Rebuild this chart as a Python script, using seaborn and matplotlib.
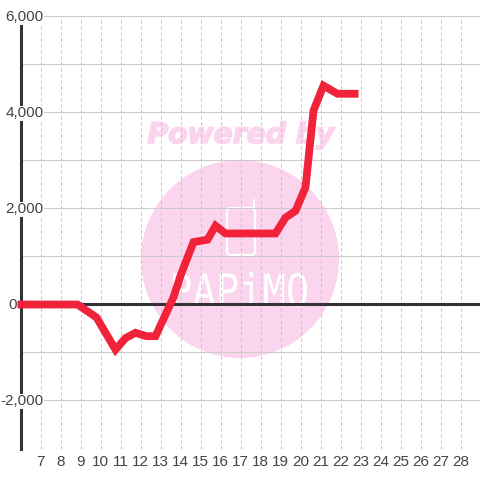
import pandas as pd
import seaborn as sns
import matplotlib
matplotlib.use("Agg")
import matplotlib.pyplot as plt
import matplotlib.patheffects as pe
from matplotlib.patches import Circle, FancyBboxPatch, PathPatch
from matplotlib.textpath import TextPath
from matplotlib.font_manager import FontProperties
from matplotlib.transforms import Affine2D

# values
hours = [5.85, 8.85, 9.8, 10.75, 11.25, 11.75, 12.3, 12.75, 13.65, 14.0, 14.65,
         15.35, 15.75, 16.25, 18.75, 19.25, 19.75, 20.25, 20.65, 21.15, 21.85, 22.9]
balance = [0, 0, -270, -940, -700, -590, -660, -660, 150, 600, 1300,
           1350, 1640, 1480, 1480, 1810, 1950, 2440, 4040, 4560, 4390, 4390]
x_ticks = list(range(7, 29))
y_labels = {6000: "6,000", 4000: "4,000", 2000: "2,000", 0: "0", -2000: "-2,000"}
y_grid = list(range(-3000, 7000, 1000))

GREY = "#cccccc"
DARK = "#333333"
PINK = "#fbd5ee"
RED = "#f0233a"

sns.set_theme(style="white")
plt.rcParams["font.family"] = ["Liberation Sans", "DejaVu Sans"]

fig = plt.figure(figsize=(4.8, 4.8), dpi=100)

# watermark layer, in pixels
bg = fig.add_axes([0, 0, 1, 1])
bg.set_xlim(0, 480)
bg.set_ylim(480, 0)
bg.axis("off")
bg.add_patch(Circle((240, 259), 99, color=PINK, lw=0))
bg.text(241, 135, "Powered by", color=PINK, ha="center", va="center",
        fontsize=20.3, family="DejaVu Sans", weight="bold", style="italic",
        path_effects=[pe.withStroke(linewidth=1.2, foreground=PINK)])
bg.add_patch(FancyBboxPatch((227, 208), 28, 47, boxstyle="round,pad=0,rounding_size=4",
                            fc="none", ec="white", lw=1.6))
bg.plot([254, 254], [200, 208], color="white", lw=1.6, solid_capstyle="round")
logo = TextPath((0, 0), "PAPiMO", size=40, prop=FontProperties(family="DejaVu Sans Mono"))
box = logo.get_extents()
logo_tf = (Affine2D().translate(-box.x0, -box.y0)
           .scale(134 / box.width, -35 / box.height).translate(173, 307))
bg.add_patch(PathPatch(logo, fc="white", ec="none", lw=0, transform=logo_tf + bg.transData))

# main chart
ax = fig.add_axes([20.5 / 480, 1 - 448.5 / 480, 460 / 480, 432 / 480])
ax.patch.set_visible(False)

df = pd.DataFrame({"hour": hours, "balance": balance})
sns.lineplot(data=df, x="hour", y="balance", ax=ax, color=RED, lw=5.6, sort=False,
             errorbar=None, zorder=5, solid_joinstyle="miter", solid_capstyle="butt",
             clip_on=False)

ax.set_xlim(6, 29)
ax.set_ylim(-3000, 6000)
ax.set_xlabel("")
ax.set_ylabel("")
ax.set_xticks(x_ticks)
ax.set_xticklabels([str(t) for t in x_ticks], fontsize=11, color="#444444")
ax.set_yticks(y_grid)
ax.set_yticklabels([])
ax.tick_params(length=0, pad=4.5)
ax.set_axisbelow(True)
ax.grid(axis="y", color=GREY, lw=0.72, ls="-")
ax.grid(axis="x", color="#c2c2c2", lw=0.72, ls=(0, (3, 3)))
for name in ["top", "right", "bottom"]:
    ax.spines[name].set_visible(False)
ax.spines["left"].set_color(DARK)
ax.spines["left"].set_linewidth(2.2)
ax.spines["left"].set_zorder(3)
ax.axhline(0, color=DARK, lw=2.2, zorder=3)

# y labels sit on white boxes that cut the axis line
for value, label in y_labels.items():
    right = -4 if value == 0 else 23
    box_style = None if value == 0 else dict(fc="white", ec="none", pad=0.5)
    ax.annotate(label, (0, value), xycoords=ax.get_yaxis_transform(),
                xytext=(right, -1), textcoords="offset pixels", ha="right", va="center",
                fontsize=11, color="#444444", bbox=box_style, annotation_clip=False, zorder=4)

fig.savefig("out.png", dpi=100)
